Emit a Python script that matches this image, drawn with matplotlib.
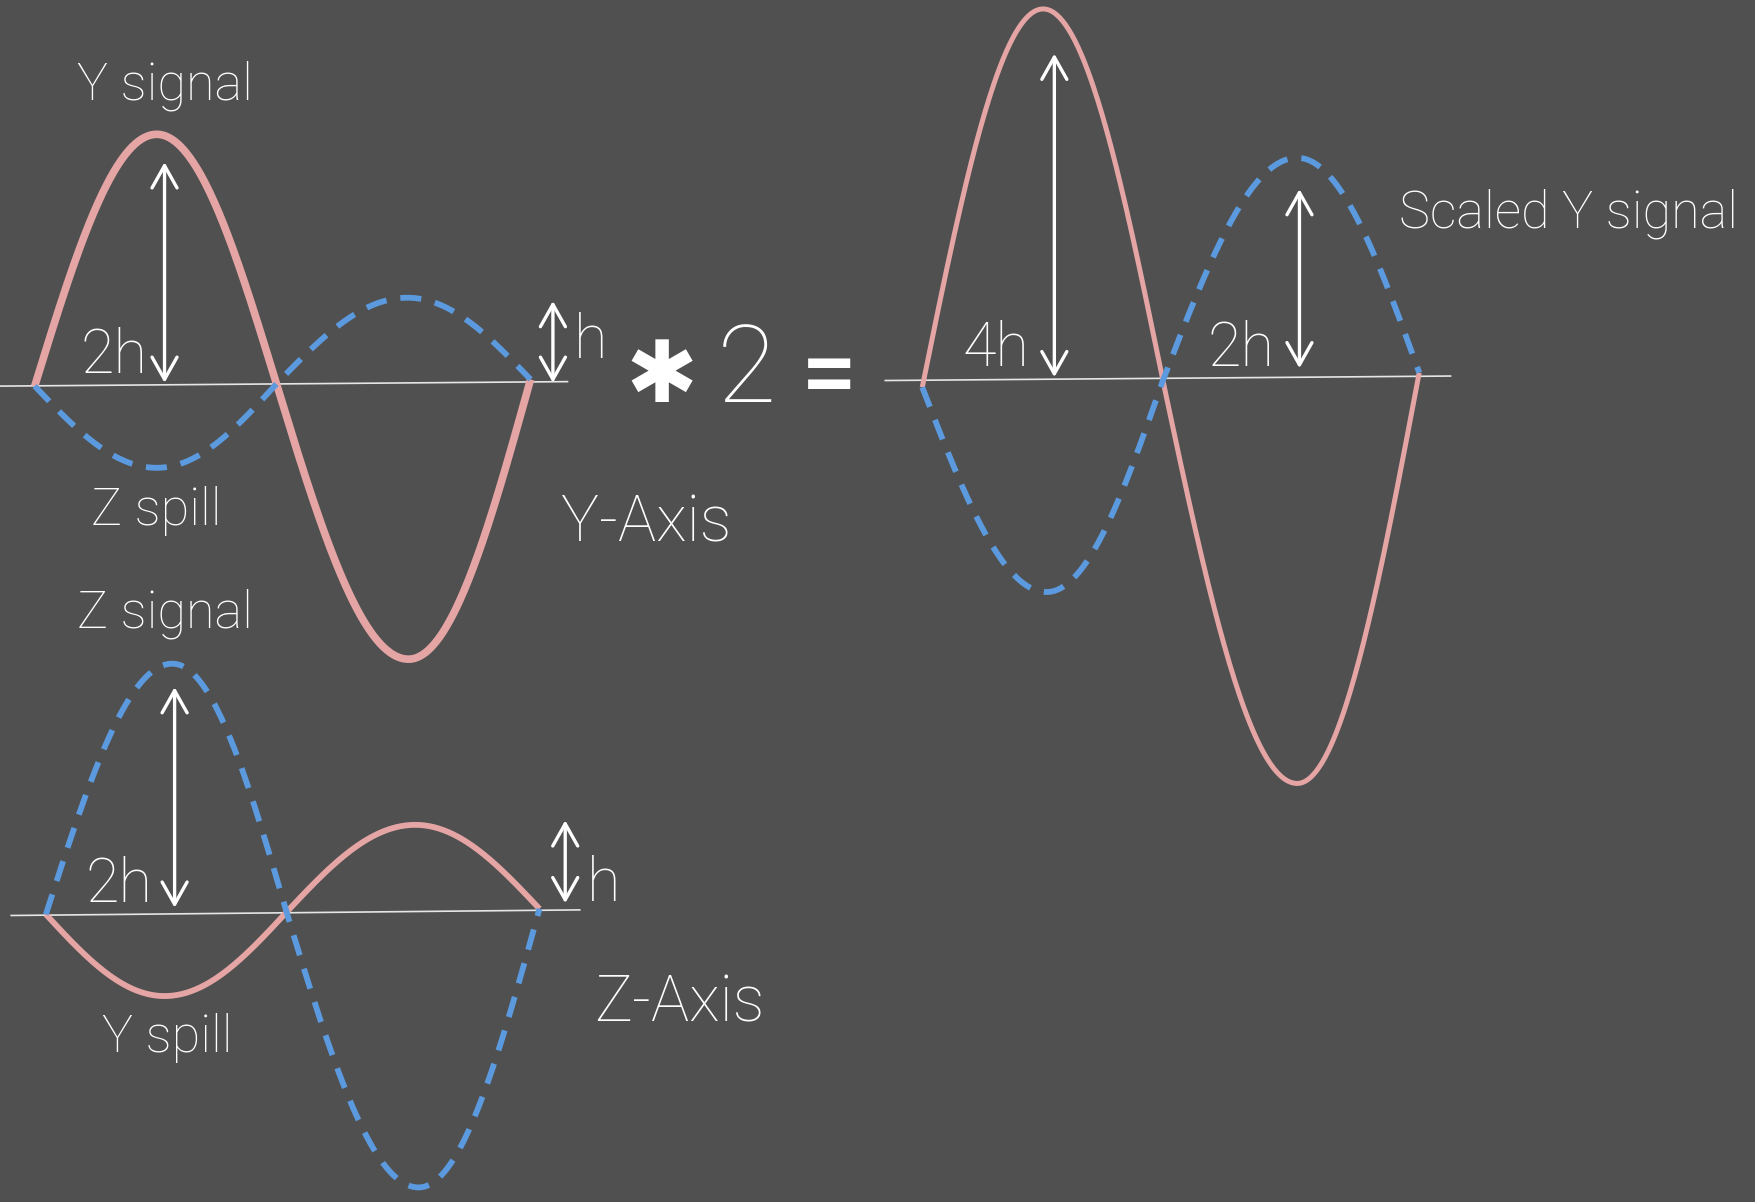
import numpy as np
import matplotlib
matplotlib.use('Agg')
import matplotlib.pyplot as plt

# colours
BG = '#505050'
PINK = '#e4a5a4'
BLUE = '#5b9ade'
WHITE = '#ffffff'

# --- data (picture units, 1568 x 1074 canvas) ---
# knots of each wave: start, extremum, zero crossing, extremum, end
y_signal_x = [31, 140, 247, 365, 474]
y_signal_y = [345, 120, 343, 589, 339]
z_spill_x = [31, 140, 247, 364, 474]
z_spill_y = [345, 418, 343, 266, 339]

z_signal_x = [41, 154, 256, 374, 482]
z_signal_y = [817, 593, 815, 1061, 812]
y_spill_x = [41, 147, 256, 371, 482]
y_spill_y = [817, 890, 815, 737, 812]

scaled_y_x = [824, 932, 1039, 1159, 1268]
scaled_y_y = [346, 8, 340, 700, 333]
scaled_z_x = [824, 935, 1039, 1159, 1268]
scaled_z_y = [346, 529, 340, 141, 333]

# reference axes (x0, y0, x1, y1)
axis_lines = [(0, 345, 507, 341), (10, 818, 518, 813), (791, 340, 1296, 336)]

# amplitude arrows (x, top, bottom) and their labels
arrows = [(147, 145, 342), (494, 269, 342), (156, 614, 811), (505, 733, 807),
          (942, 48, 337), (1161, 169, 329)]
arrow_labels = ['2h', 'h', '2h', 'h', '4h', '2h']
arrow_label_pos = [(72, 333), (513, 320), (76, 806), (524, 805), (860, 327), (1079, 327)]

# signal names and axis names
titles = ['Y signal', 'Z spill', 'Z signal', 'Y spill', 'Scaled Y signal']
title_pos = [(69, 89), (81, 469), (69, 561), (91, 940), (1250, 203)]
axis_names = ['Y-Axis', 'Z-Axis']
axis_name_pos = [(501, 484), (531, 913)]


def wave(xs, ys, n=80):
    # quarter sine segments between knots
    px, py = [], []
    for i in range(len(xs) - 1):
        t = np.linspace(0, 1, n)
        x = xs[i] + (xs[i + 1] - xs[i]) * t
        if i % 2 == 0:
            y = ys[i] + (ys[i + 1] - ys[i]) * np.sin(t * np.pi / 2)
        else:
            y = ys[i] + (ys[i + 1] - ys[i]) * (1 - np.cos(t * np.pi / 2))
        px.extend(x)
        py.extend(y)
    return px, py


fig = plt.figure(figsize=(17.55, 12.02), dpi=100)
fig.patch.set_facecolor(BG)
ax = fig.add_axes([0, 0, 1, 1])
ax.set_facecolor(BG)
ax.set_xlim(0, 1568)
ax.set_ylim(1074, 0)
ax.axis('off')

font = dict(family=['Roboto', 'DejaVu Sans'], fontweight='light', color=WHITE)

# reference axes
for x0, y0, x1, y1 in axis_lines:
    ax.plot([x0, x1], [y0, y1], color='#e6e6e6', lw=1.2, zorder=1)

# solid pink waves
for xs, ys, lw in [(y_signal_x, y_signal_y, 5.5), (y_spill_x, y_spill_y, 4.2),
                   (scaled_y_x, scaled_y_y, 3.6)]:
    px, py = wave(xs, ys)
    ax.plot(px, py, color=PINK, lw=lw, solid_capstyle='butt', zorder=2)

# dashed blue waves
for xs, ys in [(z_spill_x, z_spill_y), (z_signal_x, z_signal_y), (scaled_z_x, scaled_z_y)]:
    px, py = wave(xs, ys)
    ax.plot(px, py, color=BLUE, lw=4.2, dashes=(3.6, 2.4), solid_capstyle='butt',
            dash_capstyle='butt', zorder=3)

# amplitude arrows
for x, top, bottom in arrows:
    ax.annotate('', xy=(x, top), xytext=(x, bottom),
                arrowprops=dict(arrowstyle='<->,head_length=0.8,head_width=0.45',
                                color=WHITE, lw=2.4, shrinkA=0, shrinkB=0,
                                mutation_scale=20), zorder=4)

for lab, (x, y) in zip(arrow_labels, arrow_label_pos):
    ax.text(x, y, lab, fontsize=44, ha='left', va='baseline', **font)

for lab, (x, y) in zip(titles, title_pos):
    ax.text(x, y, lab, fontsize=37.5, ha='left', va='baseline', **font)

for lab, (x, y) in zip(axis_names, axis_name_pos):
    ax.text(x, y, lab, fontsize=46, ha='left', va='baseline', **font)

# operator between the panels
ax.text(591, 338, '\u2731', fontsize=62, ha='center', va='center', color=WHITE,
        family=['DejaVu Sans'])
ax.text(640, 359, '2', fontsize=78, ha='left', va='baseline', **font)
ax.text(741, 338, '=', fontsize=72, ha='center', va='center', color=WHITE,
        family=['Roboto', 'DejaVu Sans'], fontweight='medium')

fig.savefig('out.png', dpi=100, facecolor=BG)
